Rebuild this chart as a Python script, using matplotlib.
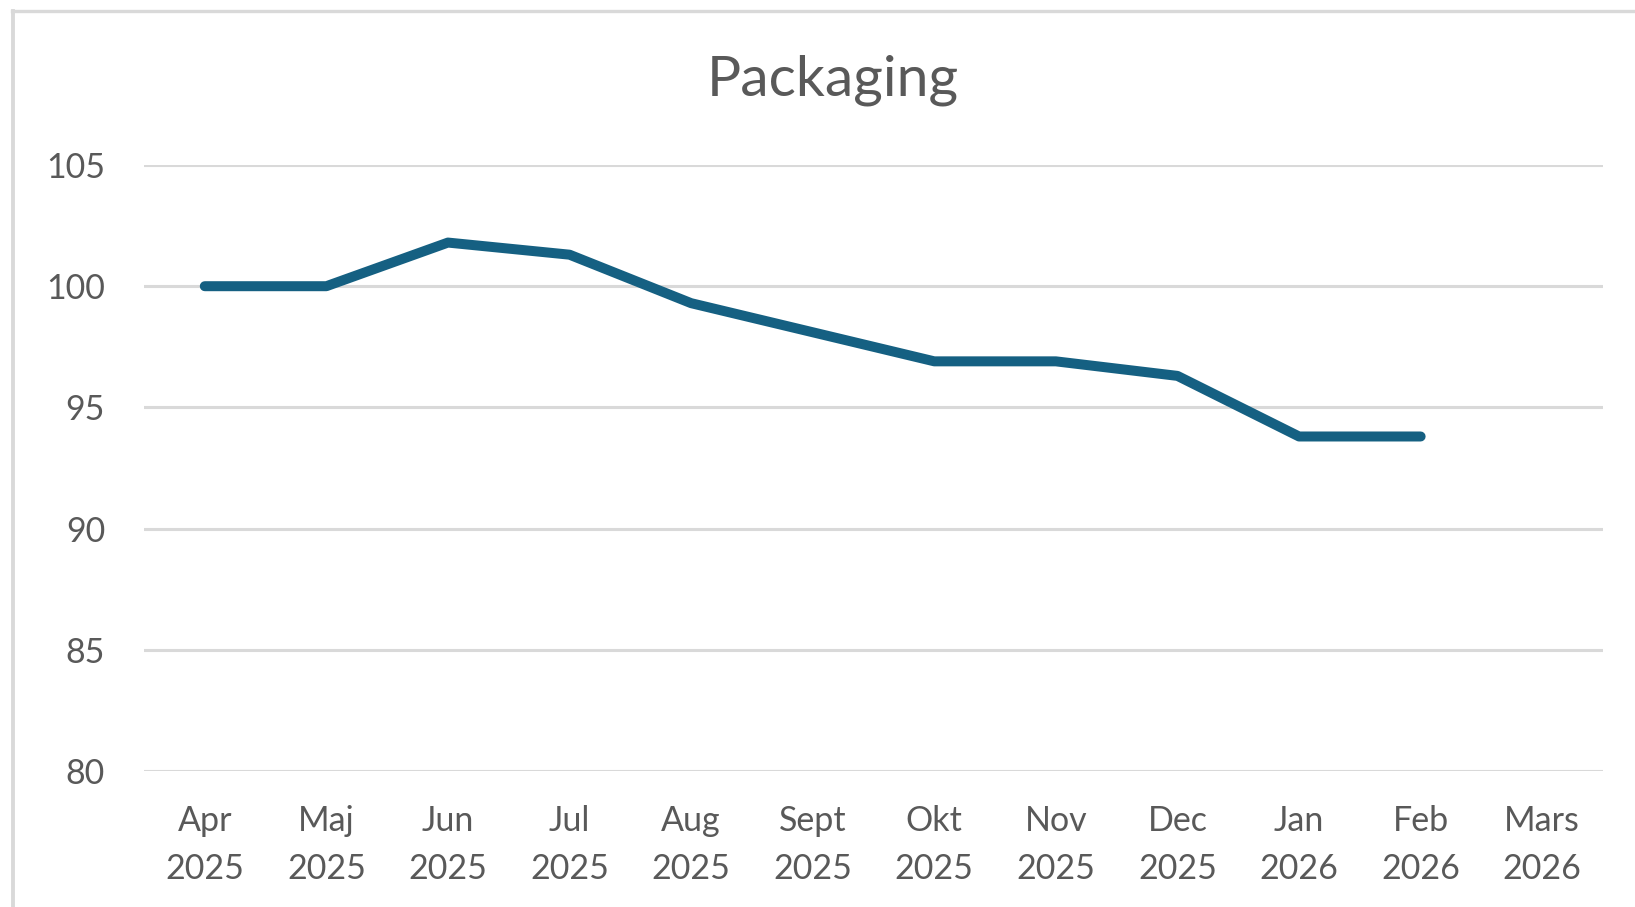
import numpy as np
import matplotlib
matplotlib.use("Agg")
import matplotlib.pyplot as plt
from matplotlib.lines import Line2D

plt.rcParams['font.family'] = ['Lato', 'DejaVu Sans']

# ---- data ----
months = ["Apr", "Maj", "Jun", "Jul", "Aug", "Sept", "Okt", "Nov", "Dec", "Jan", "Feb", "Mars"]
years = ["2025", "2025", "2025", "2025", "2025", "2025", "2025", "2025", "2025", "2026", "2026", "2026"]
values = [100.0, 100.0, 101.8, 101.3, 99.3, 98.1, 96.9, 96.9, 96.3, 93.8, 93.8, np.nan]
title = "Packaging"
yticks = [80, 85, 90, 95, 100, 105]

W, H = 1635, 907
fig = plt.figure(figsize=(W / 100, H / 100), dpi=100)
fig.patch.set_facecolor("white")

left, right, top, bottom = 144, 1603, 165, 771
ax = fig.add_axes([left / W, 1 - bottom / H, (right - left) / W, (bottom - top) / H])

x = np.arange(len(months))
ax.plot(x, values, color="#156082", linewidth=7.2, solid_capstyle="round",
        solid_joinstyle="round", zorder=3)

ax.set_xlim(-0.5, len(months) - 0.5)
ax.set_ylim(80, 105)
ax.set_yticks(yticks)
ax.set_yticklabels([str(v) for v in yticks])
ax.set_xticks(x)
ax.set_xticklabels([f"{m}\n{y}" for m, y in zip(months, years)], linespacing=1.6)

ax.grid(axis="y", color="#D9D9D9", linewidth=2.2, zorder=1)
ax.set_axisbelow(True)
for s in ax.spines.values():
    s.set_visible(False)
ax.tick_params(axis="y", length=0, pad=28.0, labelsize=24.5, labelcolor="#595959")
ax.tick_params(axis="x", length=0, pad=24.5, labelsize=24.5, labelcolor="#595959")

fig.text(833 / W, 1 - 95 / H, title, ha="center", va="baseline", fontsize=41, color="#595959")

# chart border (partially cropped)
fig.add_artist(Line2D([12 / W, 1], [1 - 11 / H, 1 - 11 / H], transform=fig.transFigure,
                      color="#D9D9D9", linewidth=2.4))
fig.add_artist(Line2D([12.5 / W, 12.5 / W], [0, 1 - 11 / H], transform=fig.transFigure,
                      color="#D9D9D9", linewidth=2.8))

fig.savefig("out.png", dpi=100, facecolor="white")
